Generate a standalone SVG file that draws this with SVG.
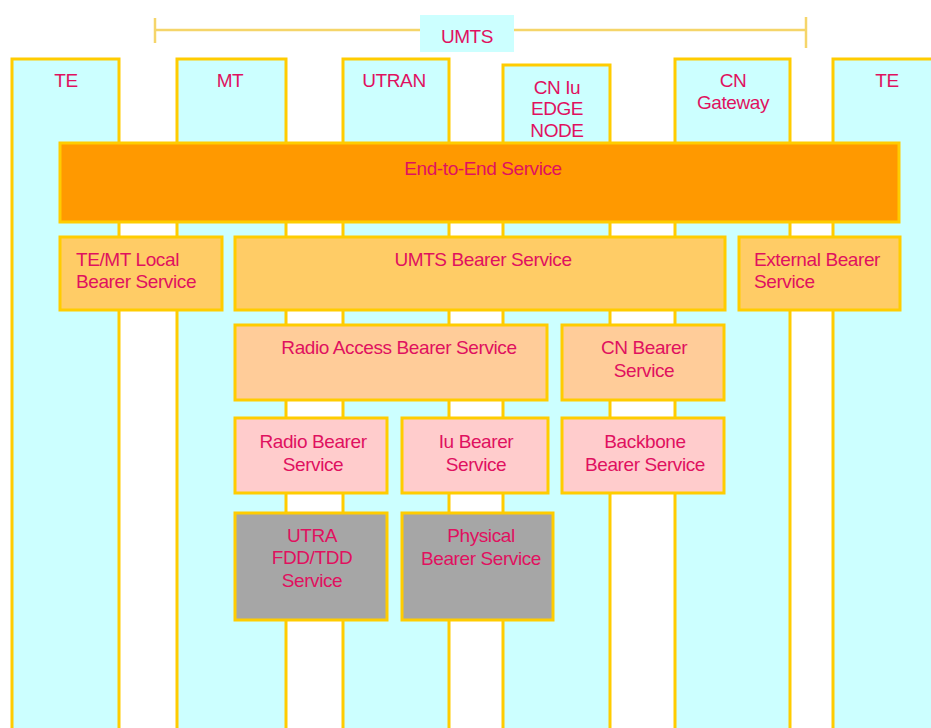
<svg xmlns="http://www.w3.org/2000/svg" width="931" height="728" viewBox="0 0 931 728">
  <style>
    .col { fill: #CCFFFF; stroke: #FFCC00; stroke-width: 3; }
    .box { stroke: #FFCC00; stroke-width: 3; }
    .e2e { fill: #FF9900; }
    .l2 { fill: #FFCC66; }
    .l3 { fill: #FFCC99; }
    .l4 { fill: #FFCCCC; }
    .l5 { fill: #A6A6A6; }
    text { font-family: "Liberation Sans", Arial, sans-serif; font-size: 19px; letter-spacing: -0.4px; fill: #E0115F; }
    .c { text-anchor: middle; }
    .span { stroke: #F5D56A; stroke-width: 2.5; fill: none; }
  </style>
  <rect width="931" height="728" fill="#FFFFFF"/>

  <!-- network element columns -->
  <g id="col-te-left"><rect class="col" x="12" y="59" width="107" height="680"/><text class="c" x="66" y="87">TE</text></g>
  <g id="col-mt"><rect class="col" x="177" y="59" width="109" height="680"/><text class="c" x="230" y="87">MT</text></g>
  <g id="col-utran"><rect class="col" x="343" y="59" width="106" height="680"/><text class="c" x="394" y="87">UTRAN</text></g>
  <g id="col-cn-edge"><rect class="col" x="503" y="65" width="107" height="680"/>
    <text class="c" x="557" y="94">CN Iu</text><text class="c" x="557" y="115">EDGE</text><text class="c" x="557" y="137">NODE</text></g>
  <g id="col-cn-gateway"><rect class="col" x="675" y="59" width="115" height="680"/>
    <text class="c" x="733" y="87">CN</text><text class="c" x="733" y="109">Gateway</text></g>
  <g id="col-te-right"><rect class="col" x="833" y="59" width="110" height="680"/><text class="c" x="887" y="87">TE</text></g>

  <!-- UMTS span -->
  <g id="connectors">
    <line class="span" x1="155" y1="30" x2="806" y2="30"/>
    <line class="span" x1="155" y1="18" x2="155" y2="43"/>
    <line class="span" x1="806" y1="17" x2="806" y2="48"/>
  </g>
  <g id="umts-label"><rect x="420" y="15" width="94" height="37" fill="#CCFFFF"/><text class="c" x="467" y="43">UMTS</text></g>

  <!-- bearer service layers -->
  <g id="end-to-end"><rect class="box e2e" x="60" y="143" width="839" height="79"/><text class="c" x="483" y="175">End-to-End Service</text></g>

  <g id="te-mt-local"><rect class="box l2" x="60" y="237" width="162" height="73"/>
    <text x="76" y="266">TE/MT Local</text><text x="76" y="288">Bearer Service</text></g>
  <g id="umts-bearer"><rect class="box l2" x="235" y="237" width="490" height="73"/><text class="c" x="483" y="266">UMTS Bearer Service</text></g>
  <g id="external-bearer"><rect class="box l2" x="739" y="237" width="161" height="73"/>
    <text x="754" y="266">External Bearer</text><text x="754" y="288">Service</text></g>

  <g id="radio-access-bearer"><rect class="box l3" x="235" y="325" width="312" height="75"/><text class="c" x="399" y="354">Radio Access Bearer Service</text></g>
  <g id="cn-bearer"><rect class="box l3" x="562" y="325" width="162" height="75"/>
    <text class="c" x="644" y="354">CN Bearer</text><text class="c" x="644" y="377">Service</text></g>

  <g id="radio-bearer"><rect class="box l4" x="235" y="418" width="152" height="75"/>
    <text class="c" x="313" y="448">Radio Bearer</text><text class="c" x="313" y="471">Service</text></g>
  <g id="iu-bearer"><rect class="box l4" x="402" y="418" width="146" height="75"/>
    <text class="c" x="476" y="448">Iu Bearer</text><text class="c" x="476" y="471">Service</text></g>
  <g id="backbone-bearer"><rect class="box l4" x="562" y="418" width="162" height="75"/>
    <text class="c" x="645" y="448">Backbone</text><text class="c" x="645" y="471">Bearer Service</text></g>

  <g id="utra-fdd-tdd"><rect class="box l5" x="235" y="513" width="152" height="107"/>
    <text class="c" x="312" y="542">UTRA</text><text class="c" x="312" y="564">FDD/TDD</text><text class="c" x="312" y="587">Service</text></g>
  <g id="physical-bearer"><rect class="box l5" x="402" y="513" width="151" height="107"/>
    <text class="c" x="481" y="542">Physical</text><text class="c" x="481" y="565">Bearer Service</text></g>
</svg>
